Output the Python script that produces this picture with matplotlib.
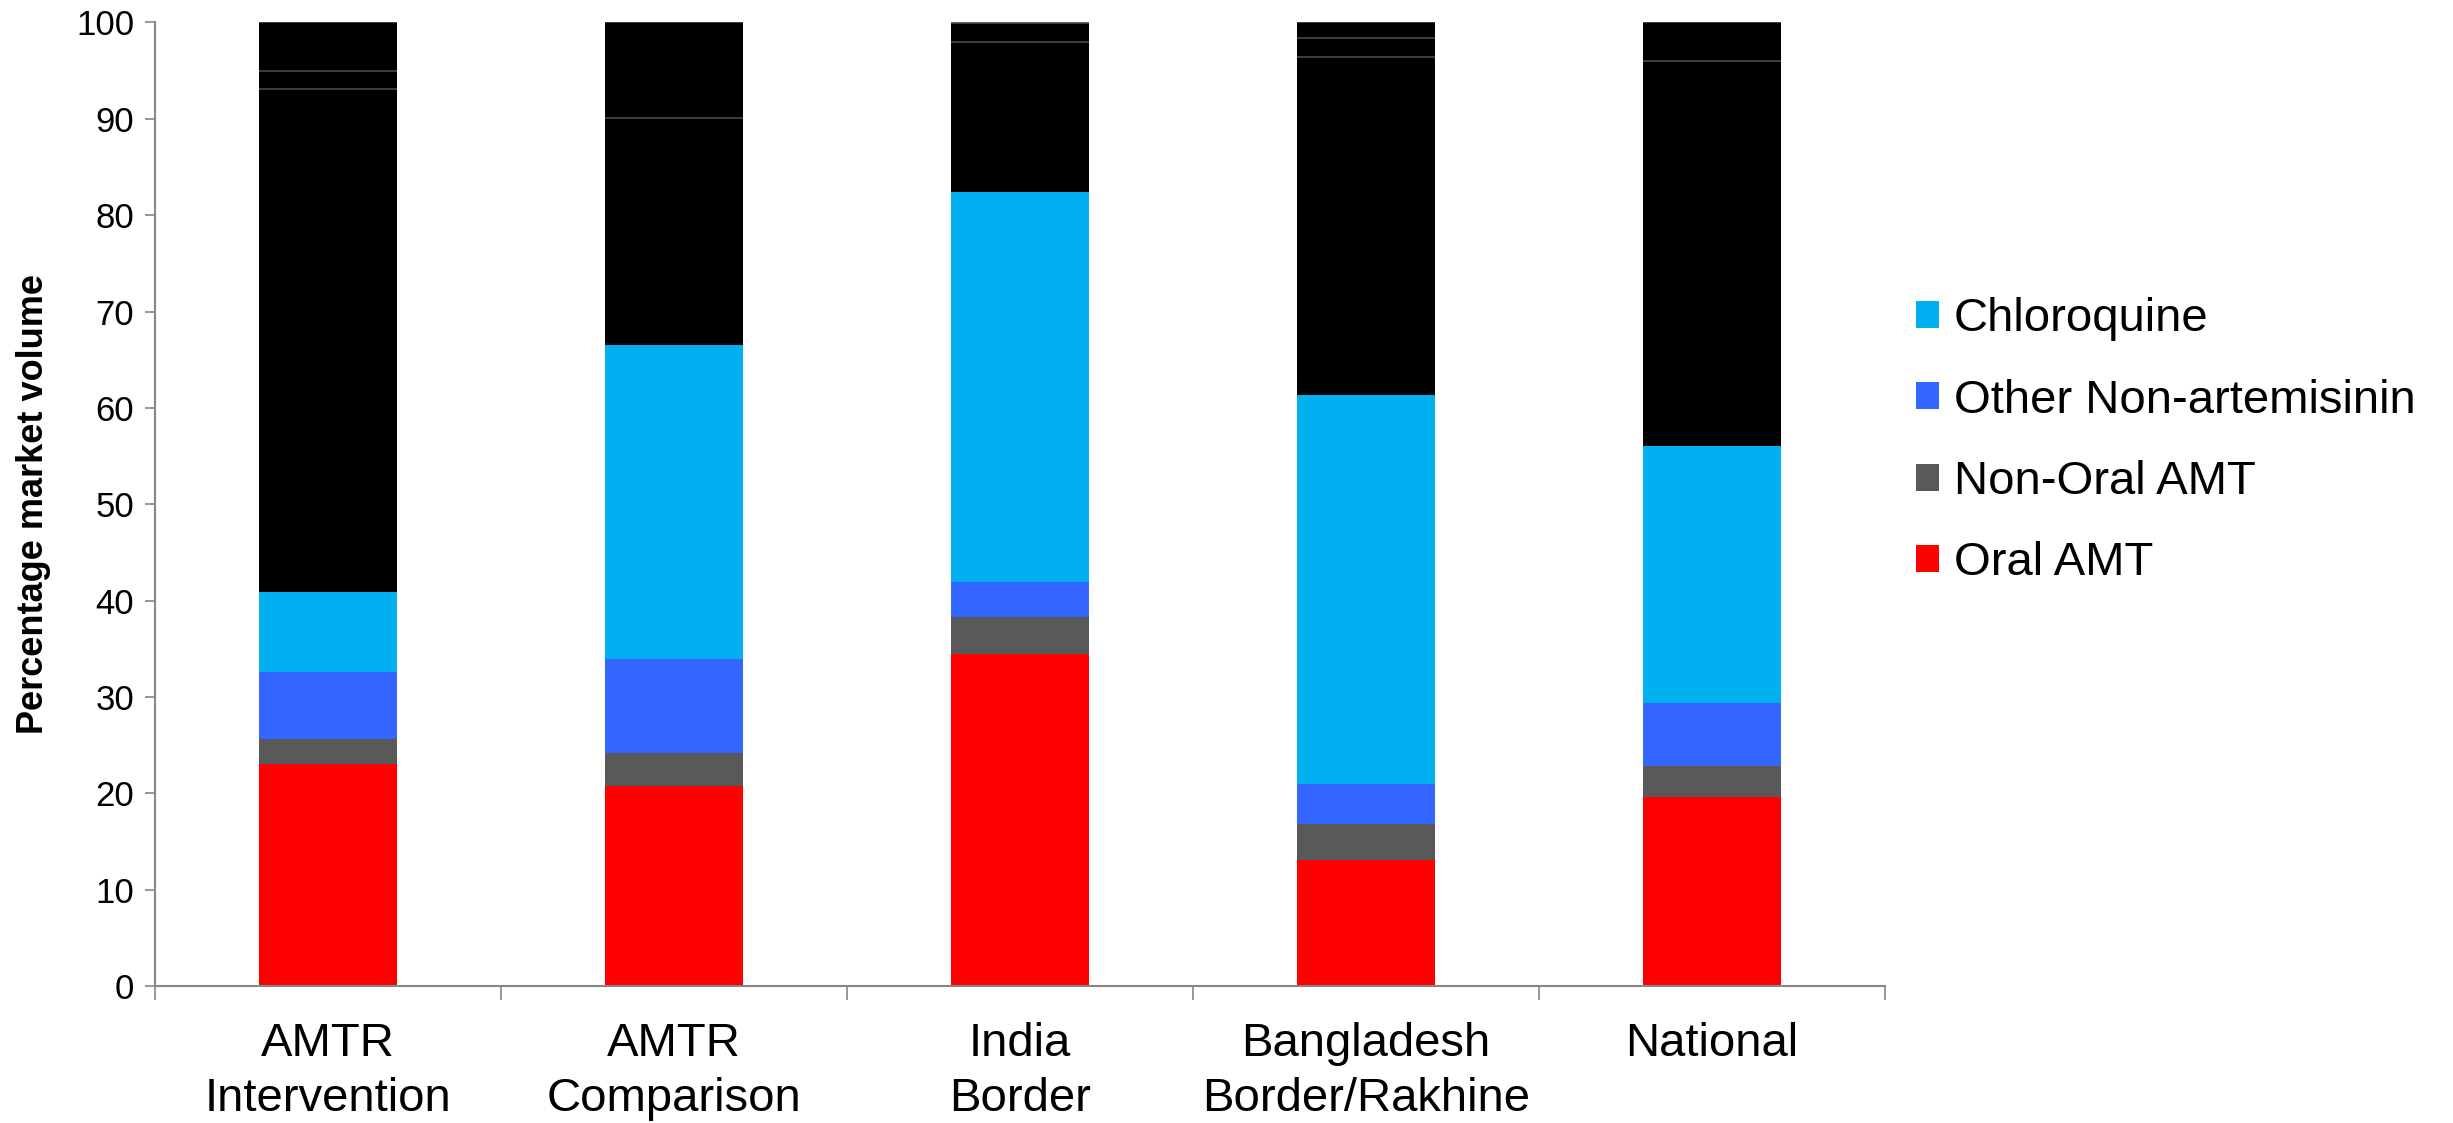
import numpy as np
import matplotlib
matplotlib.use('Agg')
import matplotlib.pyplot as plt
from matplotlib.patches import Patch

plt.rcParams['font.family'] = ['Liberation Sans', 'DejaVu Sans']

# data (percent of market volume)
sites = ["AMTR\nIntervention", "AMTR\nComparison", "India\nBorder",
         "Bangladesh\nBorder/Rakhine", "National"]
oral_amt = [23.0, 20.8, 34.5, 13.1, 19.6]
non_oral_amt = [2.6, 3.4, 3.8, 3.7, 3.2]
other_non_art = [7.0, 9.7, 3.6, 4.2, 6.6]
chloroquine = [8.3, 32.6, 40.5, 40.3, 26.6]
# unlabelled black groups on top
other_1 = [52.2, 23.6, 15.6, 35.1, 40.0]
other_2 = [1.9, 9.9, 1.9, 2.0, 4.0]
other_3 = [5.0, 0.0, 0.0, 1.6, 0.0]

labelled = [("Oral AMT", oral_amt, "#FF0000"),
            ("Non-Oral AMT", non_oral_amt, "#595959"),
            ("Other Non-artemisinin", other_non_art, "#3366FF"),
            ("Chloroquine", chloroquine, "#00B0F0")]
blacks = [other_1, other_2, other_3]

fig = plt.figure(figsize=(24.53, 11.23), dpi=100)
ax = fig.add_axes([0.0632, 0.122, 0.7053, 0.858])

x = np.arange(len(sites))
w = 0.4
bottom = np.zeros(len(sites))
for name, vals, col in labelled:
    ax.bar(x, vals, w, bottom=bottom, color=col, linewidth=0, zorder=2)
    bottom += np.array(vals)
for vals in blacks:
    v = np.array(vals)
    ax.bar(x, v, w, bottom=bottom, color='black', linewidth=0, zorder=2)
    bottom += v
    # thin grey separator at top of each black block
    keep = v > 0
    ax.hlines(bottom[keep], x[keep] - w / 2, x[keep] + w / 2,
              color='#4a4a4a', linewidth=1.2, zorder=3)

ax.set_xlim(-0.5, len(sites) - 0.5)
ax.set_ylim(0, 100)
ax.set_yticks(np.arange(0, 101, 10))
ax.set_xticks(x)
ax.set_xticklabels(sites, fontsize=34, linespacing=1.32)
ax.set_xticks(np.arange(-0.5, len(sites)), minor=True)
ax.tick_params(axis='x', which='major', length=0, pad=26)
ax.tick_params(axis='x', which='minor', length=10, width=1.2, color='#868686')
ax.tick_params(axis='y', length=7, width=1.2, color='#868686', labelsize=25, pad=8)

for s in ['top', 'right']:
    ax.spines[s].set_visible(False)
for s in ['left', 'bottom']:
    ax.spines[s].set_color('#868686')
    ax.spines[s].set_linewidth(1.5)

ax.set_ylabel("Percentage market volume", fontsize=26, fontweight='bold', labelpad=18)

handles = [Patch(facecolor=col, label=name) for name, vals, col in labelled[::-1]]
fig.legend(handles=handles, loc='center left', bbox_to_anchor=(0.781, 0.607),
           frameon=False, fontsize=34, handlelength=0.5, handleheight=0.5,
           handletextpad=0.3, labelspacing=0.79, borderpad=0, borderaxespad=0)

fig.savefig("out.png", dpi=100)
